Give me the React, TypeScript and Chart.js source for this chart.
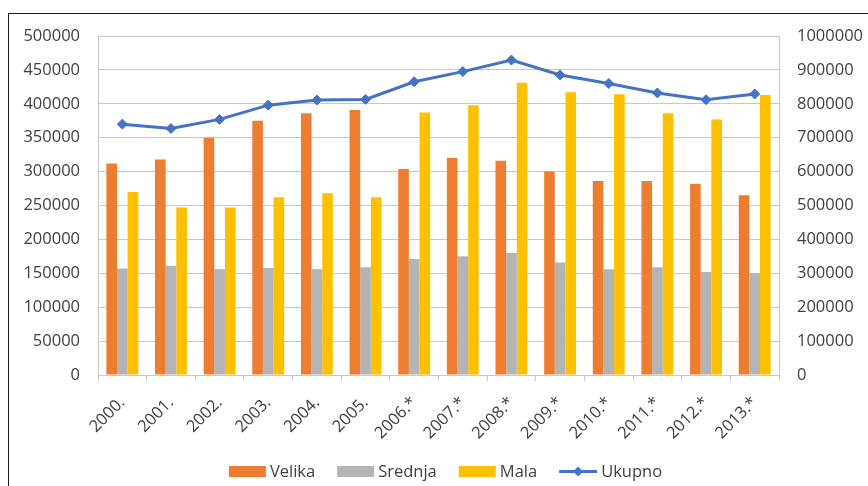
import { useEffect, useRef } from 'react';
import { Chart, registerables } from 'chart.js';

Chart.register(...registerables);

const categories = ['2000.', '2001.', '2002.', '2003.', '2004.', '2005.', '2006.*', '2007.*', '2008.*', '2009.*', '2010.*', '2011.*', '2012.*', '2013.*'];
const velika = [312000, 318000, 350000, 375000, 386000, 391000, 304000, 320000, 316000, 300000, 286000, 286000, 282000, 265000];
const srednja = [157000, 161000, 156000, 158000, 156000, 159000, 171000, 175000, 180000, 166000, 156000, 159000, 152000, 150000];
const mala = [270000, 247000, 247000, 262000, 268000, 262000, 387000, 398000, 431000, 417000, 414000, 386000, 377000, 413000];
const ukupno = [740000, 727000, 754000, 796000, 811000, 813000, 865000, 895000, 929000, 885000, 860000, 832000, 812000, 829000];

const seriesNames = ['Velika', 'Srednja', 'Mala', 'Ukupno'];
const leftMax = 500000;
const leftStep = 50000;
const rightMax = 1000000;
const rightStep = 100000;

const FONT = "'Open Sans', sans-serif";
const FONT_SIZE = 16.5;
const TEXT = '#404040';
const GRID = '#c8c8c8';
const C_VELIKA = '#ED7D31';
const C_SREDNJA = '#B4B4B4';
const C_MALA = '#FFC000';
const C_UKUPNO = '#4472C4';
const COLORS = [C_VELIKA, C_SREDNJA, C_MALA, C_UKUPNO];

const LEGEND_CX = 445.5;
const LEGEND_BOX_TOP = 466;
const LEGEND_BASELINE = 476.5;

const legendPlugin = {
  id: 'excelLegend',
  afterDraw(chart: any) {
    const ctx = chart.ctx as CanvasRenderingContext2D;
    ctx.save();
    ctx.font = `${FONT_SIZE}px ${FONT}`;
    const widths = seriesNames.map((n) => ctx.measureText(n).width);
    const symW = [37, 37, 37, 38];
    const gapText = 4;
    const gapItem = 22;
    const total = widths.reduce((a, w, i) => a + symW[i] + gapText + w, 0) + gapItem * (seriesNames.length - 1);
    let x = LEGEND_CX - total / 2;
    const cy = LEGEND_BOX_TOP + 5.5;
    seriesNames.forEach((name, i) => {
      if (i < 3) {
        ctx.fillStyle = COLORS[i];
        ctx.fillRect(x, LEGEND_BOX_TOP, symW[i], 11);
      } else {
        ctx.strokeStyle = COLORS[i];
        ctx.lineWidth = 3;
        ctx.beginPath();
        ctx.moveTo(x, cy);
        ctx.lineTo(x + symW[i], cy);
        ctx.stroke();
        const mx = x + symW[i] / 2;
        ctx.fillStyle = COLORS[i];
        ctx.beginPath();
        ctx.moveTo(mx, cy - 5);
        ctx.lineTo(mx + 5, cy);
        ctx.lineTo(mx, cy + 5);
        ctx.lineTo(mx - 5, cy);
        ctx.closePath();
        ctx.fill();
      }
      x += symW[i] + gapText;
      ctx.fillStyle = TEXT;
      ctx.textAlign = 'left';
      ctx.textBaseline = 'alphabetic';
      ctx.fillText(name, x, LEGEND_BASELINE);
      x += widths[i] + gapItem;
    });
    ctx.restore();
  },
};

export default function App() {
  const ref = useRef<HTMLCanvasElement>(null);

  useEffect(() => {
    const chart = new Chart(ref.current!, {
      type: 'bar',
      plugins: [legendPlugin],
      data: {
        labels: categories,
        datasets: [
          { label: seriesNames[0], data: velika, backgroundColor: C_VELIKA, yAxisID: 'y', order: 1, categoryPercentage: 0.656, barPercentage: 1 } as any,
          { label: seriesNames[1], data: srednja, backgroundColor: C_SREDNJA, yAxisID: 'y', order: 1, categoryPercentage: 0.656, barPercentage: 1 } as any,
          { label: seriesNames[2], data: mala, backgroundColor: C_MALA, yAxisID: 'y', order: 1, categoryPercentage: 0.656, barPercentage: 1 } as any,
          {
            type: 'line',
            label: seriesNames[3],
            data: ukupno,
            borderColor: C_UKUPNO,
            backgroundColor: C_UKUPNO,
            borderWidth: 3,
            pointStyle: 'rectRot',
            pointRadius: 5,
            pointBackgroundColor: C_UKUPNO,
            pointBorderColor: C_UKUPNO,
            pointBorderWidth: 1,
            tension: 0,
            yAxisID: 'y1',
            order: 0,
          } as any,
        ],
      },
      options: {
        responsive: false,
        animation: false,
        devicePixelRatio: 1,
        layout: { padding: { left: 20, right: 0, top: 36, bottom: 0 } },
        plugins: {
          tooltip: { enabled: false },
          legend: { display: false },
        },
        scales: {
          x: {
            offset: true,
            grid: { display: true, drawOnChartArea: false, drawTicks: true, tickLength: 6, color: GRID, offset: true },
            border: { display: true, color: GRID },
            ticks: { color: TEXT, font: { family: FONT, size: FONT_SIZE }, minRotation: 45, maxRotation: 45, autoSkip: false, padding: 12 },
            afterFit: (s: any) => { s.height = 111; },
          },
          y: {
            position: 'left',
            min: 0,
            max: leftMax,
            grid: { color: GRID, drawTicks: false },
            border: { display: true, color: GRID },
            ticks: { stepSize: leftStep, color: TEXT, font: { family: FONT, size: FONT_SIZE }, padding: 18, callback: (v: any) => String(v) },
            afterFit: (s: any) => { s.width = 78; },
          },
          y1: {
            position: 'right',
            min: 0,
            max: rightMax,
            grid: { drawOnChartArea: false, drawTicks: false, color: GRID },
            border: { display: true, color: GRID },
            ticks: { stepSize: rightStep, color: TEXT, font: { family: FONT, size: FONT_SIZE }, padding: 18, callback: (v: any) => String(v) },
            afterFit: (s: any) => { s.width = 89; },
          },
        },
      },
    } as any);
    return () => chart.destroy();
  }, []);

  return (
    <div style={{ position: 'fixed', left: 0, top: 0, width: '100vw', height: '100vh', overflow: 'hidden', background: '#fff' }}>
      <div style={{ position: 'absolute', left: 8, top: 13, width: 900, height: 600, border: '1px solid #1a1a1a', boxSizing: 'border-box' }} />
      <canvas ref={ref} width={868} height={486} style={{ position: 'absolute', left: 0, top: 0, width: 868, height: 486 }} />
    </div>
  );
}
